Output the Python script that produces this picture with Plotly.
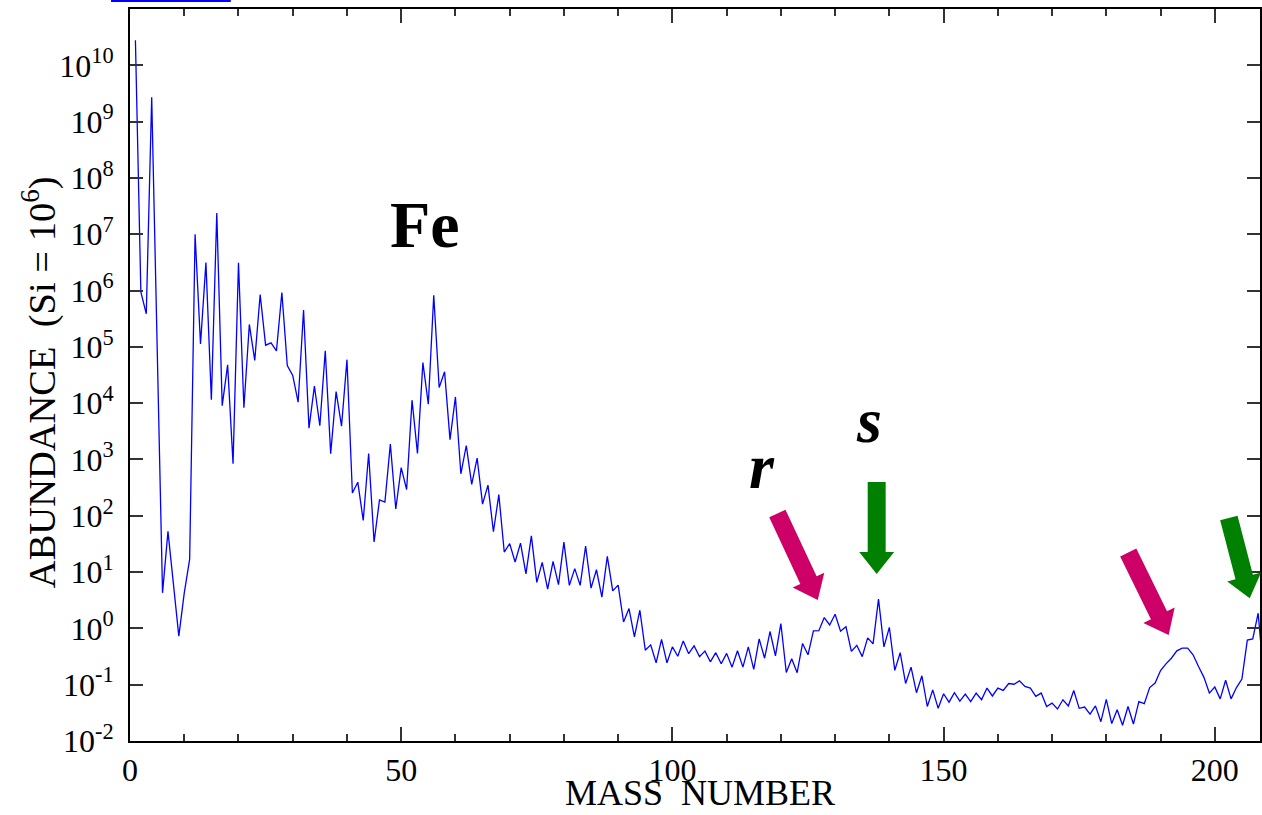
import math
import plotly.graph_objects as go

# ---- data ----
mass_numbers = [1, 2, 3, 4, 6, 7, 9, 10, 11, 12, 13, 14, 15, 16, 17, 18, 19, 20,
                21, 22, 23, 24, 25, 26, 27, 28, 29, 30, 31, 32, 33, 34, 35, 36, 37, 38, 39, 40,
                41, 42, 43, 44, 45, 46, 47, 48, 49, 50, 51, 52, 53, 54, 55, 56, 57, 58, 59, 60,
                61, 62, 63, 64, 65, 66, 67, 68, 69, 70, 71, 72, 73, 74, 75, 76, 77, 78, 79, 80,
                81, 82, 83, 84, 85, 86, 87, 88, 89, 90, 91, 92, 93, 94, 95, 96, 97, 98, 99, 100,
                101, 102, 103, 104, 105, 106, 107, 108, 109, 110, 111, 112, 113, 114, 115, 116, 117, 118, 119, 120,
                121, 122, 123, 124, 125, 126, 127, 128, 129, 130, 131, 132, 133, 134, 135, 136, 137, 138, 139, 140,
                141, 142, 143, 144, 145, 146, 147, 148, 149, 150, 151, 152, 153, 154, 155, 156, 157, 158, 159, 160,
                161, 162, 163, 164, 165, 166, 167, 168, 169, 170, 171, 172, 173, 174, 175, 176, 177, 178, 179, 180,
                181, 182, 183, 184, 185, 186, 187, 188, 189, 190, 191, 192, 193, 194, 195, 196, 197, 198, 199, 200,
                201, 202, 203, 204, 205, 206, 207, 208, 209]

abundance = [2.79e10, 9.5e5, 3.86e5, 2.72e9, 4.28, 52.8, 0.73, 4.22, 17.0, 1.0e7,
             1.12e5, 3.13e6, 1.15e4, 2.38e7, 9.04e3, 4.78e4, 843, 3.11e6,
             8.3e3, 2.5e5, 5.74e4, 8.48e5, 1.07e5, 1.18e5, 8.49e4, 9.22e5, 4.67e4, 3.1e4, 1.04e4, 4.5e5,
             3.6e3, 2.0e4, 3.97e3, 8.5e4, 1.27e3, 1.6e4, 3.9e3, 5.92e4,
             254, 395, 82.5, 1275, 34.2, 192, 175, 1885, 132, 718, 292, 1.13e4, 1283, 5.25e4, 9550, 8.25e5,
             1.9e4, 3.6e4, 2250, 1.29e4,
             557, 1770, 361, 1061, 161, 351, 52, 237, 22.7, 32, 15.1, 32.6, 9.3, 44, 6.56, 14.9, 5.0, 15.5, 6.0, 34,
             5.8, 11.5, 5.8, 29, 5.2, 11, 3.6, 19.0, 4.64, 5.87, 1.3, 2.25, 0.71, 2.1, 0.41, 0.51, 0.245, 0.64, 0.245, 0.47,
             0.32, 0.60, 0.355, 0.49, 0.315, 0.395, 0.255, 0.37, 0.235, 0.36, 0.205, 0.40, 0.205, 0.47, 0.187, 0.65, 0.295, 0.88, 0.325, 1.22,
             0.165, 0.29, 0.163, 0.54, 0.34, 0.90, 0.91, 1.56, 1.15, 1.78, 0.89, 1.07, 0.39, 0.50, 0.315, 0.68, 0.53, 3.3, 0.47, 1.04,
             0.18, 0.37, 0.105, 0.205, 0.072, 0.144, 0.041, 0.081, 0.038, 0.069, 0.049, 0.072, 0.051, 0.068, 0.050, 0.071, 0.054, 0.087, 0.063, 0.087,
             0.079, 0.105, 0.102, 0.117, 0.093, 0.087, 0.062, 0.071, 0.041, 0.047, 0.037, 0.054, 0.042, 0.079, 0.038, 0.040, 0.030, 0.042, 0.022, 0.055,
             0.0204, 0.036, 0.019, 0.041, 0.020, 0.050, 0.046, 0.089, 0.107, 0.178, 0.234, 0.295, 0.40, 0.445, 0.445, 0.34, 0.21, 0.135, 0.071, 0.091,
             0.056, 0.12, 0.056, 0.089, 0.126, 0.62, 0.65, 1.86, 0.144]

x_ticks = [0, 50, 100, 150, 200]
y_exponents = list(range(-2, 11))
y_tick_text = ["10<sup>%d</sup>" % e for e in y_exponents]

# ---- geometry helpers (pixel -> paper) ----
W, H = 1262, 815
ML, MR, MT, MB = 130, 0, 9, 74
PW, PH = W - ML - MR, H - MT - MB


def px2paper(px, py):
    return (px - ML) / PW, (H - MB - py) / PH


def arrow_path(tail, tip, sh=9.0, hh=17.5, hl=22.0):
    dx, dy = tip[0] - tail[0], tip[1] - tail[1]
    L = math.hypot(dx, dy)
    ux, uy = dx / L, dy / L
    pxv, pyv = -uy, ux
    bx, by = tip[0] - hl * ux, tip[1] - hl * uy
    pts = [
        (tail[0] + sh * pxv, tail[1] + sh * pyv),
        (bx + sh * pxv, by + sh * pyv),
        (bx + hh * pxv, by + hh * pyv),
        tip,
        (bx - hh * pxv, by - hh * pyv),
        (bx - sh * pxv, by - sh * pyv),
        (tail[0] - sh * pxv, tail[1] - sh * pyv),
    ]
    pp = [px2paper(x, y) for x, y in pts]
    return "M " + " L ".join("%.5f,%.5f" % p for p in pp) + " Z"


MAGENTA = "#CC0066"
GREEN = "#008000"
arrows = [
    ((778.5, 513.5), (819, 600), MAGENTA),
    ((878, 482), (878, 574), GREEN),
    ((1130, 552.5), (1170.5, 635), MAGENTA),
    ((1230.8, 518), (1251.7, 598.3), GREEN),
]

fig = go.Figure()
fig.add_trace(go.Scatter(x=mass_numbers, y=abundance, mode="lines",
                         line=dict(color="#0000FF", width=1.3),
                         hoverinfo="skip", showlegend=False))

shapes = []
for tail, tip, col in arrows:
    shapes.append(dict(type="path", xref="paper", yref="paper",
                       path=arrow_path(tail, tip), fillcolor=col,
                       line=dict(width=0), layer="above"))
bx0, by0 = px2paper(111, 2)
bx1, by1 = px2paper(231, 0)
shapes.append(dict(type="rect", xref="paper", yref="paper", x0=bx0, x1=bx1,
                   y0=by0, y1=by1, fillcolor="#0000FF", line=dict(width=0)))

SERIF = "Liberation Serif"
annotations = []


def add_text(text, px, py, size, angle=0, xanchor="center", yanchor="middle"):
    x, y = px2paper(px, py)
    annotations.append(dict(text=text, x=x, y=y, xref="paper", yref="paper",
                            xanchor=xanchor, yanchor=yanchor, showarrow=False,
                            textangle=angle, font=dict(family=SERIF, size=size, color="black")))


add_text("<b>Fe</b>", 426, 224, 66)
add_text("<b><i>r</i></b>", 763, 466, 64)
add_text("<b><i>s</i></b>", 870, 421, 64)
add_text("MASS\u00a0 NUMBER", 701, 815, 36, yanchor="bottom")
add_text("ABUNDANCE\u00a0 (Si = 10<sup>6</sup>)", 40, 382, 38.5, angle=-90)

axis_common = dict(showline=True, linecolor="black", linewidth=2, mirror="ticks",
                   ticks="inside", tickcolor="#333333", tickwidth=1.5,
                   showgrid=False, zeroline=False,
                   tickfont=dict(family=SERIF, size=32, color="black"))

fig.update_layout(
    width=W, height=H,
    margin=dict(l=ML, r=MR, t=MT, b=MB, pad=0),
    paper_bgcolor="white", plot_bgcolor="white",
    xaxis=dict(range=[0, PW / 5.4335], tickvals=x_ticks, ticklen=14,
               minor=dict(dtick=10, ticklen=7, ticks="inside", tickcolor="#333333", tickwidth=1.5),
               **axis_common),
    yaxis=dict(type="log", range=[-2, 11], tickvals=[10.0 ** e for e in y_exponents],
               ticktext=y_tick_text, ticklen=13, ticklabelstandoff=8, **axis_common),
    shapes=shapes, annotations=annotations,
)

fig.write_html("out.html")
